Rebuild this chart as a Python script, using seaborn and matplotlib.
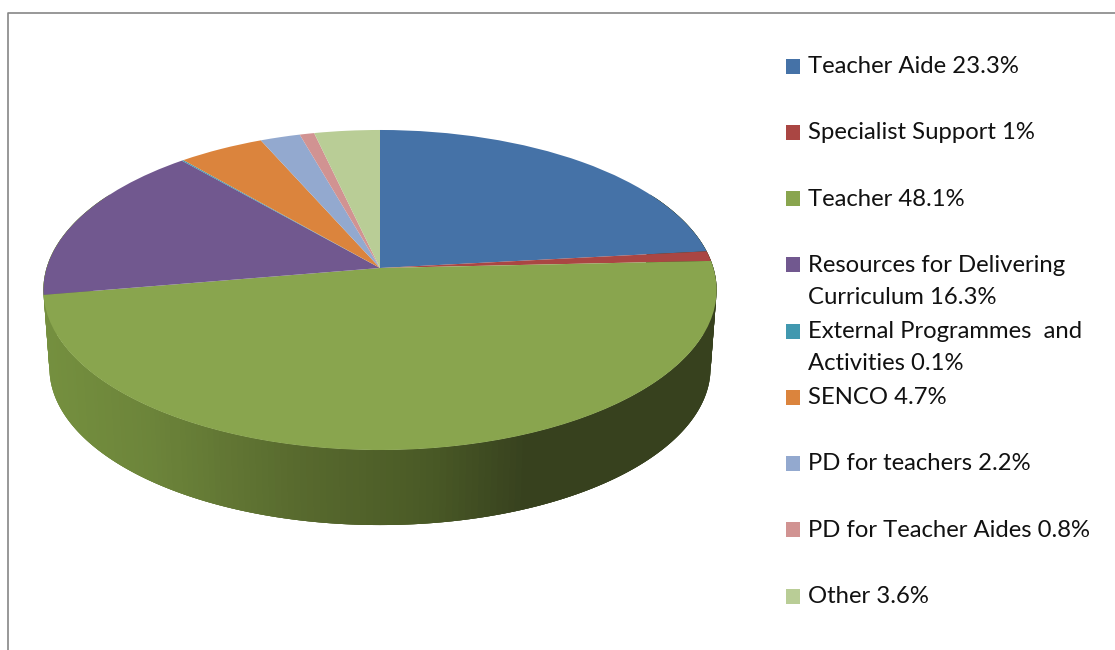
import numpy as np
import matplotlib
matplotlib.use("Agg")
import matplotlib.pyplot as plt
from matplotlib.colors import to_rgb
from matplotlib.patches import Rectangle
from matplotlib.transforms import Transform
import seaborn as sns

categories = ["Teacher Aide", "Specialist Support", "Teacher",
              "Resources for Delivering\nCurriculum", "External Programmes  and\nActivities",
              "SENCO", "PD for teachers", "PD for Teacher Aides", "Other"]
values = [23.3, 1, 48.1, 16.3, 0.1, 4.7, 2.2, 0.8, 3.6]
colors = ["#4572A7", "#AA4643", "#89A54E", "#71588F", "#4198AF",
          "#DB843D", "#93A9CF", "#D19392", "#B9CD96"]

# side wall shading, dark towards the right
wall_x = [43, 150, 290, 420, 520, 720]
wall_colors = ["#75903f", "#6c843a", "#586a2e", "#4a5a26", "#37411e", "#37411e"]


def project(u, v, scale=1.0, cy=268.0):
    # tilted disc, the near edge comes out bigger than the far one
    w = 1 + 0.1375 * v
    return 380 + scale * 333.4 * u / w, cy - scale * 157 * v / w


class Tilt(Transform):
    input_dims = 2
    output_dims = 2

    def transform_non_affine(self, values):
        x, y = project(values[:, 0], values[:, 1])
        return np.column_stack([x, y])


sns.set_theme(style="white")
plt.rcParams["font.family"] = ["Lato", "DejaVu Sans"]

fig = plt.figure(figsize=(11.15, 6.5), dpi=100)
ax = fig.add_axes([0, 0, 1, 1])

wedges, _ = ax.pie(values, colors=sns.color_palette(colors), startangle=90,
                   counterclock=False, wedgeprops={"linewidth": 0})
for w in wedges:
    w.set_transform(Tilt() + ax.transData)
    w.set_zorder(3)

ax.set_aspect("auto")
ax.set_xlim(0, 1115)
ax.set_ylim(650, 0)
ax.set_axis_off()

# side wall, thin strips under the top face. each one overlaps the
# next so no seams show through
t = np.radians(np.linspace(60, 300, 241))
rgb = np.array([to_rgb(c) for c in wall_colors])
for i in range(len(t) - 3):
    arc = t[i:i + 4]
    x_top, y_top = project(np.sin(arc), np.cos(arc))
    x_low, y_low = project(np.sin(arc), np.cos(arc), scale=0.982, cy=346.3)
    xs = np.r_[x_top, x_low[::-1]]
    ys = np.r_[y_top, y_low[::-1]]
    mid = xs.mean()
    c = [np.interp(mid, wall_x, rgb[:, k]) for k in range(3)]
    ax.fill(xs, ys, color=c, lw=0, zorder=2)

# legend rows are not evenly packed, so they are placed by hand
for i, (name, val) in enumerate(zip(categories, values)):
    base = 73 + 66.25 * i
    ax.add_patch(Rectangle((786, base - 14.5), 14, 15, color=colors[i], lw=0, zorder=3))
    label = f"{name} {val:g}%"
    for k, line in enumerate(label.split("\n")):
        ax.text(808.5, base + 32.5 * k, line, fontsize=17.2, color="#111111",
                ha="left", va="baseline", zorder=4)

# chart frame, cut off by the image on the right and at the bottom
ax.plot([7.5, 7.5, 1115], [650, 13, 13], color="#868686", lw=1.2, zorder=1)

fig.savefig("out.png", dpi=100)
